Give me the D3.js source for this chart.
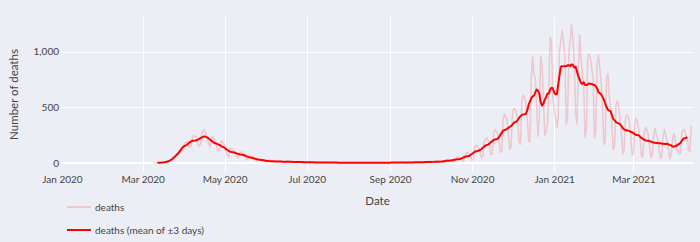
<!DOCTYPE html>
<html>
<head>
<meta charset="utf-8">
<script src="https://cdn.jsdelivr.net/npm/d3@7"></script>
<style>
  body { margin: 0; background: #ebeef5; }
  svg { display: block; font-family: Lato, sans-serif; }
</style>
</head>
<body>
<div id="chart"></div>
<script>
// daily deaths, one row per week (Mon..Sun), first day 2020-03-09
var startDate = "2020-03-09";
var deaths = [
  2,0,1,2,3,4,5,
  4,6,9,11,15,20,22,
  28,42,58,72,88,105,95,
  110,150,175,185,190,160,140,
  150,230,250,240,230,170,150,
  170,260,300,290,270,210,180,
  140,220,240,220,200,150,110,
  110,190,200,180,150,100,70,
  60,130,130,120,110,80,55,
  45,95,100,95,85,60,40,
  30,65,65,60,50,35,25,
  15,40,40,35,30,20,14,
  10,25,25,22,18,12,8,
  8,20,20,18,15,10,6,
  6,16,18,15,14,8,5,
  5,14,14,12,12,6,4,
  4,11,12,10,9,5,3,
  3,9,9,8,7,4,2,
  2,7,8,7,6,3,2,
  2,6,7,5,5,3,1,
  1,6,6,5,4,3,1,
  2,5,6,6,5,2,1,
  1,6,6,5,5,2,1,
  2,5,7,5,4,3,1,
  1,6,6,6,4,2,1,
  2,6,7,5,5,3,1,
  2,7,8,7,6,3,2,
  2,9,10,8,7,4,2,
  3,11,12,11,9,6,3,
  4,14,16,14,12,7,4,
  5,18,20,18,16,9,5,
  8,30,34,30,27,15,9,
  12,45,55,50,45,25,15,
  20,80,95,90,75,50,25,
  40,150,160,150,130,90,45,
  60,200,210,230,200,160,80,
  80,270,300,290,260,200,100,
  100,380,440,420,380,260,120,
  150,450,490,480,460,370,190,
  170,560,610,590,540,400,200,
  190,780,950,800,750,520,240,
  400,960,880,600,250,280,350,
  650,1130,1100,600,500,400,320,
  400,1000,1100,1190,1100,950,350,
  400,1000,1100,1240,1110,900,450,
  350,850,1150,950,800,700,230,
  300,950,980,940,850,750,220,
  280,900,970,850,720,500,170,
  200,750,800,600,500,330,120,
  150,520,560,500,400,280,80,
  110,400,430,420,360,250,70,
  80,360,400,360,300,200,60,
  60,280,320,300,250,150,50,
  60,240,310,260,220,130,45,
  55,230,300,250,200,120,40,
  70,200,260,230,120,110,80,
  90,270,300,300,250,230,120,
  100,340
];
var xTicks = ["2020-01-01","2020-03-01","2020-05-01","2020-07-01","2020-09-01","2020-11-01","2021-01-01","2021-03-01"];
var yTicks = [0, 500, 1000];
var xRange = ["2020-01-01", "2021-04-14T07:00"];
var yRange = [-80, 1311];
var seriesNames = ["deaths", "deaths (mean of \u00b13 days)"];

var W = 700, H = 242;
var pL = 62, pR = 693, pT = 17, pB = 172;
var bg = "#ebeef5";
var pink = "rgba(255,0,0,0.17)";
var textCol = "#444";

var parse = d3.utcParse("%Y-%m-%d");
var parseT = d3.utcParse("%Y-%m-%dT%H:%M");
var t0 = parse(startDate);

var daily = deaths.map(function(v, i) { return { date: d3.utcDay.offset(t0, i), v: v }; });
// centred mean of +-3 days, only where the full window exists
var smooth = [];
for (var i = 3; i < deaths.length - 3; i++) {
  smooth.push({ date: daily[i].date, v: d3.mean(deaths.slice(i - 3, i + 4)) });
}

var x = d3.scaleUtc().domain([parse(xRange[0]), parseT(xRange[1])]).range([pL, pR]);
var y = d3.scaleLinear().domain(yRange).range([pB, pT]);

var svg = d3.select("#chart").append("svg").attr("width", W).attr("height", H);
svg.append("rect").attr("width", W).attr("height", H).attr("fill", bg);

// grid
var grid = svg.append("g");
grid.selectAll(".vx").data(xTicks.slice(1)).enter().append("line")
  .attr("x1", function(d) { return Math.round(x(parse(d))) + 0.5; })
  .attr("x2", function(d) { return Math.round(x(parse(d))) + 0.5; })
  .attr("y1", pT).attr("y2", pB)
  .attr("stroke", "#fff").attr("stroke-width", 1);
grid.selectAll(".hy").data(yTicks).enter().append("line")
  .attr("x1", pL).attr("x2", pR)
  .attr("y1", function(d) { return d === 0 ? Math.round(y(d)) : Math.round(y(d)) + 0.5; })
  .attr("y2", function(d) { return d === 0 ? Math.round(y(d)) : Math.round(y(d)) + 0.5; })
  .attr("stroke", "#fff").attr("stroke-width", function(d) { return d === 0 ? 2 : 1; });

// axes (labels only, plotly style)
var xAxis = svg.append("g").attr("transform", "translate(0," + pB + ")")
  .call(d3.axisBottom(x).tickValues(xTicks.map(parse)).tickFormat(d3.utcFormat("%b %Y")).tickSize(0).tickPadding(4));
var yAxis = svg.append("g").attr("transform", "translate(" + pL + ",0)")
  .call(d3.axisLeft(y).tickValues(yTicks).tickFormat(d3.format(",")).tickSize(0).tickPadding(3));
[xAxis, yAxis].forEach(function(a) {
  a.select(".domain").remove();
  a.selectAll("text").attr("fill", textCol).style("font-size", "10px").style("font-family", "Lato, sans-serif");
});

// lines
svg.append("clipPath").attr("id", "plot").append("rect")
  .attr("x", pL).attr("y", pT).attr("width", pR - pL).attr("height", pB - pT);
var line = d3.line().x(function(d) { return x(d.date); }).y(function(d) { return y(d.v); });
svg.append("path").datum(daily).attr("d", line).attr("clip-path", "url(#plot)")
  .attr("fill", "none").attr("stroke", pink).attr("stroke-width", 1.5).attr("stroke-linejoin", "round");
svg.append("path").datum(smooth).attr("d", line).attr("clip-path", "url(#plot)")
  .attr("fill", "none").attr("stroke", "red").attr("stroke-width", 2).attr("stroke-linejoin", "round");

// titles
svg.append("text").attr("x", (pL + pR) / 2).attr("y", 205).attr("text-anchor", "middle")
  .attr("fill", textCol).style("font-size", "11.5px").text("Date");
svg.append("text").attr("transform", "translate(18," + (pT + pB) / 2 + ") rotate(-90)")
  .attr("text-anchor", "middle").attr("fill", textCol).style("font-size", "11.5px").text("Number of deaths");

// legend
var legend = svg.selectAll(".leg").data(seriesNames).enter().append("g")
  .attr("transform", function(d, i) { return "translate(67," + (207 + i * 23) + ")"; });
legend.append("line").attr("x1", 0).attr("x2", 24).attr("y1", 0).attr("y2", 0)
  .attr("stroke", function(d, i) { return i === 0 ? pink : "red"; }).attr("stroke-width", 2);
legend.append("text").attr("x", 28).attr("y", 0).attr("dy", "0.35em")
  .attr("fill", textCol).style("font-size", "10px").text(function(d) { return d; });
</script>
</body>
</html>
